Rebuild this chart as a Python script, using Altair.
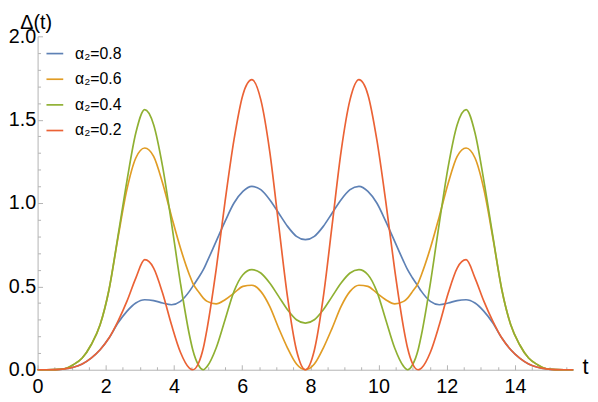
import altair as alt
import pandas as pd

# time grid (t)
T = [0, 0.262, 0.524, 0.785, 1.047, 1.309, 1.571, 1.833, 2.094, 2.356, 2.618, 2.880,
     3.142, 3.403, 3.665, 3.927, 4.189, 4.451, 4.55, 4.712, 4.86, 4.974, 5.236, 5.498,
     5.760, 6.021, 6.283, 6.545, 6.807, 7.069, 7.330, 7.592, 7.854,
     8.116, 8.378, 8.639, 8.901, 9.163, 9.425, 9.687, 9.948, 10.210, 10.472, 10.734,
     10.85, 10.996, 11.16, 11.257, 11.519, 11.781, 12.043, 12.305, 12.566, 12.828,
     13.090, 13.352, 13.614, 13.875, 14.137, 14.399, 14.661, 14.923, 15.184, 15.446, 15.708]

D_08 = [0, 0, 0.001, 0.005, 0.015, 0.035, 0.07, 0.12, 0.19, 0.28, 0.35, 0.40,
        0.42, 0.415, 0.40, 0.39, 0.41, 0.47, 0.50, 0.55, 0.60, 0.65, 0.77, 0.89,
        1.00, 1.07, 1.10, 1.08, 1.02, 0.94, 0.86, 0.80, 0.78,
        0.80, 0.86, 0.94, 1.02, 1.08, 1.10, 1.07, 1.00, 0.89, 0.77, 0.65,
        0.60, 0.55, 0.50, 0.47, 0.41, 0.39, 0.40, 0.415, 0.42, 0.40,
        0.35, 0.28, 0.19, 0.12, 0.07, 0.035, 0.015, 0.005, 0.001, 0, 0]

D_06 = [0, 0, 0.001, 0.006, 0.03, 0.07, 0.15, 0.27, 0.48, 0.79, 1.08, 1.27,
        1.33, 1.28, 1.12, 0.92, 0.73, 0.57, 0.52, 0.47, 0.43, 0.41, 0.395, 0.42,
        0.46, 0.50, 0.507, 0.47, 0.38, 0.25, 0.13, 0.034, 0,
        0.034, 0.13, 0.25, 0.38, 0.47, 0.507, 0.50, 0.46, 0.42, 0.395, 0.41,
        0.43, 0.47, 0.52, 0.57, 0.73, 0.92, 1.12, 1.28, 1.33, 1.27,
        1.08, 0.79, 0.48, 0.27, 0.15, 0.07, 0.03, 0.006, 0.001, 0, 0]

D_04 = [0, 0, 0.001, 0.006, 0.03, 0.07, 0.15, 0.27, 0.48, 0.80, 1.13, 1.42,
        1.56, 1.47, 1.22, 0.88, 0.52, 0.21, 0.12, 0.03, 0, 0.02, 0.13, 0.30,
        0.47, 0.57, 0.60, 0.58, 0.52, 0.44, 0.36, 0.30, 0.28,
        0.30, 0.36, 0.44, 0.52, 0.58, 0.60, 0.57, 0.47, 0.30, 0.13, 0.02,
        0, 0.03, 0.12, 0.21, 0.52, 0.88, 1.22, 1.47, 1.56, 1.42,
        1.13, 0.80, 0.48, 0.27, 0.15, 0.07, 0.03, 0.006, 0.001, 0, 0]

D_02 = [0, 0, 0.001, 0.005, 0.015, 0.035, 0.07, 0.12, 0.19, 0.29, 0.41, 0.55,
        0.66, 0.61, 0.46, 0.27, 0.105, 0.01, 0, 0.036, 0.13, 0.25, 0.60, 1.01,
        1.38, 1.65, 1.74, 1.62, 1.31, 0.87, 0.435, 0.117, 0,
        0.117, 0.435, 0.87, 1.31, 1.62, 1.74, 1.65, 1.38, 1.01, 0.60, 0.25,
        0.13, 0.036, 0, 0.01, 0.105, 0.27, 0.46, 0.61, 0.66, 0.55,
        0.41, 0.29, 0.19, 0.12, 0.07, 0.035, 0.015, 0.005, 0.001, 0, 0]

LABELS = ["α₂=0.8", "α₂=0.6", "α₂=0.4", "α₂=0.2"]
COLORS = ["#5E81B5", "#E19C24", "#8FB032", "#EB6235"]
SERIES = [D_08, D_06, D_04, D_02]

X_LABEL_TICKS = [0, 2, 4, 6, 8, 10, 12, 14]
X_MINOR = [0.5, 1, 1.5, 2.5, 3, 3.5, 4.5, 5, 5.5, 6.5, 7, 7.5, 8.5, 9, 9.5,
           10.5, 11, 11.5, 12.5, 13, 13.5, 14.5, 15, 15.5]
Y_LABEL_TICKS = [0, 0.5, 1.0, 1.5, 2.0]
Y_MINOR = [0.1, 0.2, 0.3, 0.4, 0.6, 0.7, 0.8, 0.9, 1.1, 1.2, 1.3, 1.4,
           1.6, 1.7, 1.8, 1.9]

rows = []
for lab, vals in zip(LABELS, SERIES):
    for t, v in zip(T, vals):
        rows.append({"t": t, "d": v, "s": lab})
df = pd.DataFrame(rows)

FONT = "Liberation Sans"
AXC = "#b3b3b3"
W, H = 543, 338

xs = alt.Scale(domain=[0, 15.708], nice=False, zero=False)
ys = alt.Scale(domain=[0, 2], nice=False, zero=False)

lines = alt.Chart(df).mark_line(strokeWidth=1.7, interpolate="monotone").encode(
    x=alt.X("t:Q", scale=xs, axis=alt.Axis(
        orient="bottom", values=X_LABEL_TICKS, format="d", ticks=False, grid=False,
        labelPadding=7, labelFontSize=20, labelFont=FONT, labelColor="black",
        labelFlush=False, labelOverlap=False, domainColor=AXC, domainWidth=1,
        title="t", titleFont=FONT, titleFontSize=22, titleFontWeight="normal",
        titleColor="black", titleX=555, titleY=4, titleAlign="center",
        titleBaseline="alphabetic", titleAngle=0)),
    y=alt.Y("d:Q", scale=ys, axis=alt.Axis(
        orient="left", values=Y_LABEL_TICKS, format=".1f", ticks=False, grid=False,
        labelPadding=2, labelFontSize=20, labelFont=FONT, labelColor="black",
        labelFlush=False, labelOverlap=False, domainColor=AXC, domainWidth=1,
        title="Δ(t)", titleFont=FONT, titleFontSize=20, titleFontWeight="normal",
        titleColor="black", titleX=-2, titleY=-8, titleAlign="center",
        titleBaseline="alphabetic", titleAngle=0)),
    color=alt.Color("s:N", sort=LABELS,
                    scale=alt.Scale(domain=LABELS, range=COLORS),
                    legend=alt.Legend(title=None, orient="none", legendX=8, legendY=8,
                                      symbolType="stroke", symbolSize=289,
                                      symbolStrokeWidth=1.7, labelFontSize=16,
                                      labelFont=FONT, labelColor="black",
                                      labelOffset=11, rowPadding=8, padding=0)),
)

major = alt.Chart(df).mark_point(opacity=0).encode(
    x=alt.X("t:Q", scale=xs, axis=alt.Axis(
        orient="top", offset=-H, values=X_LABEL_TICKS, labels=False, domain=False,
        grid=False, tickSize=5, tickColor=AXC, title=None)),
    y=alt.Y("d:Q", scale=ys, axis=alt.Axis(
        orient="right", offset=-W, values=Y_LABEL_TICKS, labels=False, domain=False,
        grid=False, tickSize=5, tickColor=AXC, title=None)),
)

minor = alt.Chart(df).mark_point(opacity=0).encode(
    x=alt.X("t:Q", scale=xs, axis=alt.Axis(
        orient="top", offset=-H, values=X_MINOR, labels=False, domain=False,
        grid=False, tickSize=3, tickColor=AXC, title=None)),
    y=alt.Y("d:Q", scale=ys, axis=alt.Axis(
        orient="right", offset=-W, values=Y_MINOR, labels=False, domain=False,
        grid=False, tickSize=3, tickColor=AXC, title=None)),
)

chart = alt.layer(lines, major, minor).resolve_axis(
    x="independent", y="independent"
).properties(
    width=W, height=H,
    padding={"left": 30, "top": 26, "right": 17, "bottom": 30},
    autosize=alt.AutoSizeParams(type="none"),
).configure_view(stroke=None)

chart.save("out.html", embed_options={"renderer": "svg", "actions": False})
